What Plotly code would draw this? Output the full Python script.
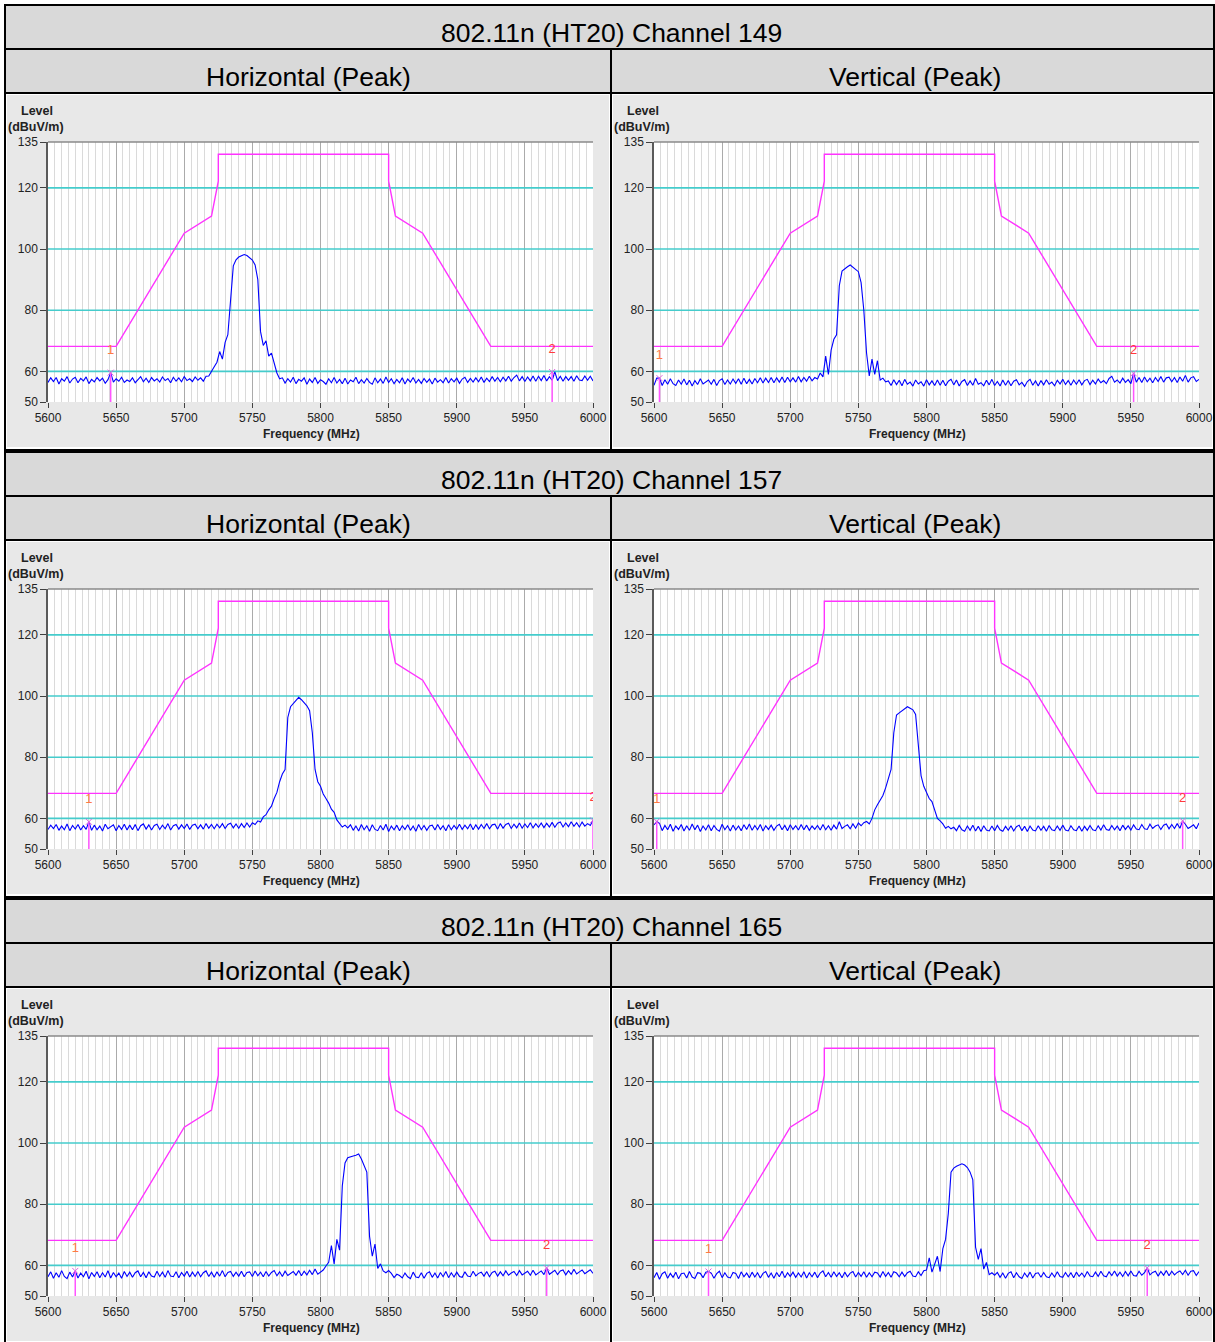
import plotly.graph_objects as go

# sweep points (MHz), one reading every 2 MHz
FREQ = [5600 + 2 * i for i in range(201)]

# band-edge limit line (dBuV/m)
LIMIT_FREQ = [5600, 5650, 5700, 5720, 5725, 5725, 5850, 5850, 5855, 5875, 5925, 6000]
LIMIT_LEVEL = [68.2, 68.2, 105.2, 110.8, 122.2, 131.0, 131.0, 122.2, 110.8, 105.2, 68.2, 68.2]

REF_LINES = [60, 80, 100, 120]
Y_TICKS = [50, 60, 80, 100, 120, 135]

CHANNELS = ["149", "157", "165"]
POLS = ["Horizontal (Peak)", "Vertical (Peak)"]

H149 = [
    56.4, 57.9, 56.7, 58.0, 55.9, 57.6, 56.8, 58.3, 56.2, 57.5,
    58.1, 56.3, 57.7, 56.9, 58.2, 56.0, 57.4, 56.6, 58.0, 56.9,
    57.8, 56.1, 57.3, 59.6, 56.5, 57.6, 56.8, 58.1, 56.4, 57.2,
    56.7, 57.9, 56.3, 57.5, 58.3, 56.6, 57.8, 56.4, 58.0, 56.9,
    57.6, 56.5, 58.2, 57.0, 57.7, 56.3, 58.1, 56.8, 57.9, 56.6,
    58.3, 57.0, 57.6, 56.7, 58.2, 57.1, 57.9, 56.8, 58.4,
    58.5, 59.8, 61.5, 63.0, 66.5, 64.0, 69.5, 72.0, 84.0, 94.5,
    96.5, 97.4, 97.8, 98.2, 97.9, 97.2, 96.4, 94.8, 90.0, 73.0,
    68.5, 70.0, 65.0, 66.0, 62.5, 59.5, 57.6,
    57.9, 56.2, 57.6, 56.5, 58.1, 56.0, 57.4, 56.8, 57.9, 55.8,
    57.5, 56.4, 58.0, 56.1, 57.3, 56.7, 55.8, 57.6, 56.3, 58.0,
    56.2, 57.4, 56.0, 57.8, 55.9, 57.2, 56.6, 58.1, 56.0, 57.3,
    56.2, 57.7, 56.4, 55.8, 57.9, 56.3, 57.5, 56.1, 58.2, 56.4,
    57.6, 56.0, 57.4, 56.3, 57.9, 55.9, 57.5, 56.5, 58.0, 56.2,
    57.4, 56.1, 57.7, 56.4, 57.5, 55.9, 57.8, 56.5, 57.3, 56.3,
    58.0, 56.2, 57.6, 56.6, 57.8, 56.1, 57.5, 58.1, 56.4, 57.7,
    56.5, 57.9, 56.6, 58.2, 56.4, 57.8, 56.7, 58.3, 56.8, 58.0,
    56.6, 58.1, 56.9, 58.4, 56.8, 58.0, 58.8, 56.9, 58.3, 56.7,
    58.2, 56.9, 58.5, 56.8, 58.4, 57.0, 58.7, 56.9, 58.3, 57.1,
    59.8, 57.0, 58.4, 56.8, 58.3, 57.1, 58.3, 56.8, 58.6, 57.2,
    57.0, 58.5, 57.1, 58.4, 56.9,
]

V149 = [
    55.5, 57.8, 57.8, 55.4, 57.3, 55.8, 57.6, 56.0, 55.4, 57.2,
    55.8, 57.5, 55.6, 57.1, 55.2, 57.0, 55.7, 57.6, 55.9, 56.5,
    57.2, 55.8, 57.4, 55.4, 57.0, 57.6, 55.7, 57.2, 55.9, 57.5,
    56.1, 57.6, 55.8, 57.8, 56.0, 57.4, 55.9, 57.7, 56.3, 57.9,
    56.2, 57.8, 56.4, 58.0, 56.3, 57.9, 56.5, 58.2, 56.4, 58.1,
    56.6, 57.9, 56.5, 58.3, 56.6, 58.0, 56.8, 58.4, 56.9,
    58.0, 57.5, 59.5, 58.2, 65.0, 59.0, 67.0, 70.5, 72.0, 88.0,
    92.8, 93.6, 94.2, 94.8, 94.0, 93.5, 92.6, 89.0, 80.0, 66.0,
    58.5, 64.0, 59.0, 63.5, 57.2, 57.8, 56.6,
    56.9, 55.4, 57.3, 55.7, 57.1, 55.3, 57.4, 55.8, 56.5, 55.2,
    57.2, 55.9, 56.6, 55.2, 57.3, 55.6, 56.9, 55.4, 57.2, 55.5,
    57.1, 55.3, 56.8, 57.4, 55.6, 57.2, 55.2, 56.7, 57.3, 55.4,
    56.9, 55.5, 57.7, 55.8, 56.3, 55.3, 57.1, 55.6, 57.4, 55.4,
    56.7, 55.2, 57.2, 55.5, 57.0, 55.3, 56.8, 57.3, 55.6, 56.4,
    55.1, 56.7, 57.4, 55.5, 56.9, 55.2, 57.0, 55.6, 57.3, 55.8,
    56.5, 55.3, 57.1, 55.9, 57.4, 55.7, 57.0, 55.5, 57.2, 55.8,
    57.3, 55.6, 57.0, 57.4, 55.7, 57.1, 55.9, 57.5, 56.3, 57.0,
    56.0, 57.7, 58.4, 56.5, 57.2, 56.2, 57.8, 56.4, 57.3, 56.0,
    59.4, 56.5, 58.0, 56.4, 58.2, 56.6, 57.8, 56.3, 58.0, 56.7,
    58.3, 56.5, 57.9, 58.1, 56.6, 58.0, 56.4, 58.2, 56.8, 58.7,
    56.5, 57.9, 58.3, 56.7, 57.4,
]

H157 = [
    56.4, 57.8, 56.7, 58.0, 56.1, 57.5, 56.3, 58.2, 56.0, 57.7,
    56.5, 58.0, 56.2, 57.6, 56.4, 58.9, 56.1, 57.8, 56.3, 57.5,
    55.9, 58.1, 56.6, 57.3, 57.9, 56.0, 57.7, 56.4, 58.1, 56.2,
    57.8, 56.3, 58.0, 56.0, 57.6, 58.2, 56.5, 57.9, 56.2, 57.7,
    58.1, 56.4, 57.8, 56.6, 58.3, 56.2, 57.6, 58.0, 56.5, 57.9,
    56.7, 58.2, 56.4, 57.8, 58.1, 56.6, 57.9, 56.5, 58.3, 56.8,
    58.0, 56.6, 58.1, 56.9, 58.3, 56.7, 58.0, 58.4, 56.9, 58.2,
    56.8, 58.3, 57.0, 58.5, 57.2, 58.6,
    58.0, 59.2, 58.8, 60.5, 61.2, 62.8, 64.0, 66.5, 68.5, 72.0,
    74.5, 76.0, 93.0, 96.5, 97.6, 98.6, 99.6, 98.8, 97.8, 96.8,
    95.2, 88.0, 76.0, 72.0, 70.5, 68.0, 66.5, 65.0, 63.0, 62.0,
    59.5, 58.5, 57.2, 57.8, 56.9,
    57.9, 56.1, 57.5, 55.9, 58.0, 56.3, 57.6, 55.8, 57.9, 56.4,
    56.0, 57.7, 56.2, 58.1, 55.7, 57.5, 56.3, 57.8, 56.0, 57.6,
    56.4, 57.9, 56.1, 57.5, 55.8, 58.0, 56.3, 57.7, 56.1, 57.5,
    57.8, 56.2, 58.0, 56.4, 57.6, 56.0, 57.9, 56.3, 57.7, 56.5,
    58.1, 56.4, 57.8, 56.6, 58.2, 56.3, 57.9, 56.5, 58.0, 56.7,
    58.3, 56.6, 57.9, 58.1, 56.5, 58.3, 56.8, 58.0, 58.4, 56.7,
    58.1, 56.9, 58.5, 56.8, 58.2, 57.0, 58.6, 56.9, 58.3, 57.1,
    58.5, 57.0, 58.4, 57.2, 58.7, 57.1, 58.4, 58.8, 57.2, 58.5,
    57.3, 58.9, 57.4, 58.6, 57.2, 58.8, 57.5, 58.3, 57.7, 59.4,
]

V157 = [
    57.9, 59.0, 58.4, 56.0, 57.7, 56.3, 58.1, 55.8, 57.5, 56.4,
    58.0, 55.9, 57.6, 56.1, 58.2, 56.3, 57.8, 55.7, 57.5, 56.2,
    57.9, 56.0, 57.7, 56.4, 55.8, 58.1, 56.3, 57.6, 55.9, 57.8,
    56.2, 57.5, 56.0, 57.9, 56.4, 58.2, 56.1, 57.7, 56.3, 58.0,
    55.9, 57.6, 56.4, 57.8, 56.1, 57.5, 58.1, 56.3, 57.7, 56.0,
    57.9, 56.4, 57.6, 56.2, 58.0, 56.3, 57.8, 56.1, 57.5, 56.4,
    57.7, 56.2, 58.0, 56.3, 57.6, 56.1, 57.8, 56.5, 58.9, 56.7,
    57.4, 57.9, 56.6, 58.2, 56.8, 58.5,
    57.6, 58.6, 59.0, 58.2, 60.0, 62.8, 64.5, 66.0, 67.5, 70.0,
    73.0, 76.0, 88.0, 93.8, 94.5, 95.2, 96.0, 96.5, 96.0, 95.5,
    94.0, 84.0, 74.0, 70.5, 68.5, 66.5, 65.5, 62.5, 60.0, 59.2,
    58.2, 56.8, 57.4, 56.6, 57.1,
    56.0, 57.7, 56.3, 55.8, 57.5, 56.1, 57.8, 55.9, 57.4, 55.7,
    57.6, 56.2, 55.9, 57.5, 56.0, 57.7, 56.3, 55.8, 57.4, 56.1,
    57.6, 55.9, 57.3, 57.8, 56.0, 57.4, 55.7, 57.5, 56.2, 55.9,
    57.6, 56.1, 57.4, 55.8, 57.7, 56.3, 56.0, 57.5, 56.1, 57.8,
    56.2, 55.9, 57.6, 56.3, 56.0, 57.5, 55.8, 57.4, 56.1, 57.7,
    56.3, 56.0, 57.6, 56.2, 57.9, 56.4, 56.1, 57.7, 56.3, 57.5,
    56.0, 57.8, 56.4, 57.6, 56.2, 57.9, 56.5, 56.3, 58.0, 56.6,
    56.4, 58.1, 56.7, 57.5, 57.9, 56.4, 57.8, 58.2, 56.6, 58.0,
    56.7, 58.3, 56.8, 59.2, 58.1, 56.7, 57.3, 57.9, 56.6, 58.5,
]

H165 = [
    56.3, 57.9, 55.8, 57.6, 56.1, 58.3, 56.4, 55.7, 57.8, 56.2,
    58.2, 55.9, 57.5, 56.3, 58.1, 55.6, 57.7, 56.4, 57.9, 56.0,
    57.6, 56.2, 58.3, 55.9, 57.7, 56.3, 57.5, 55.8, 58.0, 56.4,
    57.8, 56.1, 57.6, 58.2, 56.3, 57.7, 56.0, 57.9, 56.5, 56.2,
    58.1, 56.4, 57.8, 56.1, 58.3, 56.5, 56.3, 57.9, 56.0, 57.7,
    56.5, 58.1, 56.2, 57.8, 56.4, 58.0, 56.3, 57.6, 58.2, 56.4,
    57.8, 56.1, 57.9, 56.5, 58.3, 56.3, 57.7, 58.0, 56.4, 57.8,
    56.5, 58.1, 56.3, 57.7, 57.9, 56.4, 58.2, 56.6, 57.8, 56.3,
    58.0, 56.5, 57.7, 58.3, 56.6, 57.9, 56.4, 58.1, 56.7, 57.5,
    58.0, 56.8, 58.3, 56.6, 58.1, 56.9, 58.4, 57.0, 58.8, 57.1,
    57.8, 58.5, 59.8, 61.0, 66.5, 60.5, 68.5, 65.0, 86.0, 93.5,
    95.2, 95.6, 95.8, 96.0, 96.4, 94.8, 92.8, 90.5, 69.5, 63.0,
    67.0, 59.0, 60.5, 58.2, 57.6, 58.3,
    57.4, 56.0, 57.1, 56.7, 55.9, 57.5, 56.3, 55.7, 57.8, 56.2,
    56.0, 57.6, 55.8, 57.4, 57.9, 56.1, 57.5, 55.9, 57.7, 56.3,
    58.0, 56.0, 57.6, 56.2, 57.8, 56.4, 56.1, 57.9, 56.5, 56.3,
    58.1, 56.6, 57.4, 57.8, 56.5, 58.0, 56.3, 57.7, 58.1, 56.5,
    57.9, 56.6, 58.2, 56.8, 57.5, 58.0, 56.7, 58.3, 56.9, 57.6,
    58.1, 56.8, 58.4, 56.9, 57.7, 58.2, 57.0, 59.2, 57.1, 57.8,
    58.4, 57.0, 58.2, 58.5, 56.9, 58.3, 57.1, 58.7, 57.2, 57.9,
    58.5, 57.3, 58.1, 58.6, 57.4,
]

V165 = [
    56.0, 57.7, 55.5, 57.3, 57.9, 55.8, 57.4, 56.1, 57.8, 55.6,
    57.3, 57.5, 55.9, 58.0, 56.2, 55.7, 57.6, 57.4, 56.0, 57.8,
    58.0, 57.5, 55.8, 57.3, 58.1, 56.0, 57.6, 56.2, 55.9, 57.7,
    57.4, 55.7, 57.9, 56.3, 57.5, 56.0, 57.8, 56.2, 57.6, 55.9,
    57.4, 58.0, 56.1, 57.5, 55.8, 57.7, 56.3, 58.1, 56.0, 57.6,
    56.4, 57.8, 56.1, 57.5, 56.2, 57.9, 55.9, 57.6, 56.3, 57.8,
    56.0, 57.5, 58.2, 56.3, 57.7, 56.1, 57.9, 56.4, 57.6, 56.0,
    57.8, 56.3, 57.5, 58.0, 56.2, 57.7, 56.4, 57.9, 56.1, 57.6,
    56.3, 57.8, 57.5, 56.2, 58.0, 56.4, 57.7, 56.1, 57.9, 57.5,
    56.3, 57.8, 56.4, 57.6, 58.1, 56.5, 56.3, 57.9, 56.7, 58.3,
    58.5, 62.5, 57.8, 60.5, 63.0, 58.0, 65.5, 68.5, 77.0, 90.5,
    91.8, 92.4, 92.8, 93.2, 92.8, 92.0, 90.5, 88.0, 66.0, 62.0,
    65.5, 58.8, 61.0, 57.0, 57.6, 56.8,
    57.7, 56.1, 57.5, 55.8, 57.4, 57.9, 56.0, 57.6, 56.3, 55.7,
    57.5, 56.2, 57.8, 55.9, 57.4, 57.6, 56.1, 57.7, 56.3, 56.0,
    57.5, 56.2, 57.9, 56.4, 56.1, 57.7, 56.3, 57.6, 56.0, 57.8,
    56.4, 57.5, 56.2, 58.0, 56.5, 56.3, 57.8, 56.4, 58.1, 56.6,
    56.3, 57.9, 56.7, 58.2, 56.5, 57.8, 56.4, 58.0, 56.6, 58.2,
    56.7, 56.5, 58.1, 56.8, 57.6, 59.2, 56.9, 57.7, 58.1, 56.5,
    58.0, 56.8, 58.3, 56.6, 58.1, 56.9, 57.7, 58.2, 57.0, 58.4,
    56.8, 58.1, 58.3, 56.7, 58.0,
]

# marker readings (MHz, dBuV/m)
MK_H149 = [(5646, 59.6), (5970, 59.8)]
MK_V149 = [(5604, 57.8), (5952, 59.4)]
MK_H157 = [(5630, 58.9), (6000, 59.4)]
MK_V157 = [(5602, 59.0), (5988, 59.2)]
MK_H165 = [(5620, 58.2), (5966, 59.2)]
MK_V165 = [(5640, 58.0), (5962, 59.2)]

PANELS = [
    (H149, MK_H149), (V149, MK_V149),
    (H157, MK_H157), (V157, MK_V157),
    (H165, MK_H165), (V165, MK_V165),
]

W, H = 1215, 1342
FONT = "Liberation Sans, Arial, sans-serif"
HEAD_BG = "#d9d9d9"
PANEL_BG = "#e8e8e8"
BLOCK = 447


def px(x):
    return x / W


def py(y):
    return 1 - y / H


def label(text, x, y, size):
    return dict(text=text, x=px(x), y=py(y), xref="paper", yref="paper",
                xanchor="center", yanchor="middle", showarrow=False,
                font=dict(family=FONT, size=size, color="black" if size > 20 else "#222222"))


fig = go.Figure()
shapes = []
annotations = []

# table cells
for k, ch in enumerate(CHANNELS):
    off = BLOCK * k
    shapes.append(dict(type="rect", xref="paper", yref="paper", layer="below",
                       x0=px(5), x1=px(1214), y0=py(49 + off), y1=py(5 + off),
                       fillcolor=HEAD_BG, line=dict(color="black", width=2)))
    for x0, x1 in [(5, 611), (611, 1214)]:
        shapes.append(dict(type="rect", xref="paper", yref="paper", layer="below",
                           x0=px(x0), x1=px(x1), y0=py(93 + off), y1=py(49 + off),
                           fillcolor=HEAD_BG, line=dict(color="black", width=2)))
        shapes.append(dict(type="rect", xref="paper", yref="paper", layer="below",
                           x0=px(x0), x1=px(x1), y0=py(450 + off), y1=py(93 + off),
                           fillcolor="white", line=dict(color="black", width=2)))
        shapes.append(dict(type="rect", xref="paper", yref="paper", layer="below",
                           x0=px(x0 + 2), x1=px(x1 - 2), y0=py(447 + off), y1=py(95 + off),
                           fillcolor=PANEL_BG, line=dict(width=0)))
    annotations.append(label(f"802.11n (HT20) Channel {ch}", 612, 33 + off, 26.5))
    for c, pol in enumerate(POLS):
        annotations.append(label(pol, 308 + 607 * c, 77 + off, 26.5))

# charts
for n, (levels, markers) in enumerate(PANELS, start=1):
    row, col = (n - 1) // 2, (n - 1) % 2
    off = BLOCK * row
    dx = 606 * col
    suffix = "" if n == 1 else str(n)
    xa, ya = "x" + suffix, "y" + suffix
    xname, yname = "xaxis" + suffix, "yaxis" + suffix

    for v in REF_LINES:
        fig.add_trace(go.Scatter(x=[5600, 6000], y=[v, v], mode="lines",
                                 line=dict(color="#45cccc", width=1.6),
                                 xaxis=xa, yaxis=ya, hoverinfo="skip"))
    fig.add_trace(go.Scatter(x=LIMIT_FREQ, y=LIMIT_LEVEL, mode="lines",
                             line=dict(color="#ff33ff", width=1.4),
                             xaxis=xa, yaxis=ya))
    fig.add_trace(go.Scatter(x=FREQ, y=levels, mode="lines",
                             line=dict(color="#0000ff", width=1.1),
                             xaxis=xa, yaxis=ya))
    for i, (f, lvl) in enumerate(markers):
        fig.add_trace(go.Scatter(x=[f, f], y=[50, lvl], mode="lines",
                                 line=dict(color="#ff55ff", width=1.5),
                                 xaxis=xa, yaxis=ya))
        fig.add_trace(go.Scatter(x=[f], y=[lvl], mode="markers",
                                 marker=dict(symbol="x-thin", size=6,
                                             line=dict(color="#e060e0", width=1)),
                                 xaxis=xa, yaxis=ya))
        fig.add_trace(go.Scatter(x=[f], y=[lvl + 7.2], mode="text", text=[str(i + 1)],
                                 textfont=dict(family=FONT, size=13,
                                               color="#ff7a45" if i == 0 else "#ff3b3b"),
                                 cliponaxis=True, xaxis=xa, yaxis=ya))

    fig.layout[xname] = dict(
        domain=[px(48 + dx), px(593 + dx)], anchor=ya, range=[5600, 6000],
        tick0=5600, dtick=50, showgrid=True, gridcolor="#ababab", gridwidth=1,
        minor=dict(dtick=5, showgrid=True, gridcolor="#dadada", gridwidth=1),
        ticks="outside", ticklen=5, tickcolor="#404040", zeroline=False,
        showline=False, automargin=False,
        tickfont=dict(family=FONT, size=12, color="#222222"))
    fig.layout[yname] = dict(
        domain=[py(402 + off), py(142 + off)], anchor=xa, range=[50, 135],
        tickvals=Y_TICKS, showgrid=False, zeroline=False,
        ticks="outside", ticklen=6, tickcolor="#404040",
        showline=True, linecolor="#5a5a5a", linewidth=1.5, automargin=False,
        tickfont=dict(family=FONT, size=12, color="#222222"))

    # white plot area (the grey panel would otherwise cover plot_bgcolor)
    shapes.append(dict(type="rect", xref=f"{xa} domain", yref=f"{ya} domain", layer="below",
                       x0=0, x1=1, y0=0, y1=1, fillcolor="white", line=dict(width=0)))
    shapes.append(dict(type="line", xref=f"{xa} domain", yref=f"{ya} domain",
                       x0=0, x1=1, y0=1, y1=1, line=dict(color="#8a8a8a", width=1.5)))

    annotations.append(label("<b>Level</b>", 37 + dx, 111 + off, 12.5))
    annotations.append(label("<b>(dBuV/m)</b>", 36 + dx, 127 + off, 12.5))
    annotations.append(label("<b>Frequency (MHz)</b>", 311 + dx, 434 + off, 12))

fig.update_layout(
    width=W, height=H,
    margin=dict(l=0, r=0, t=0, b=0, pad=0, autoexpand=False),
    paper_bgcolor="white", plot_bgcolor="white",
    showlegend=False,
    shapes=shapes, annotations=annotations,
)

fig.write_html("out.html", config={"displayModeBar": False},
               post_script="document.body.style.margin='0';")
